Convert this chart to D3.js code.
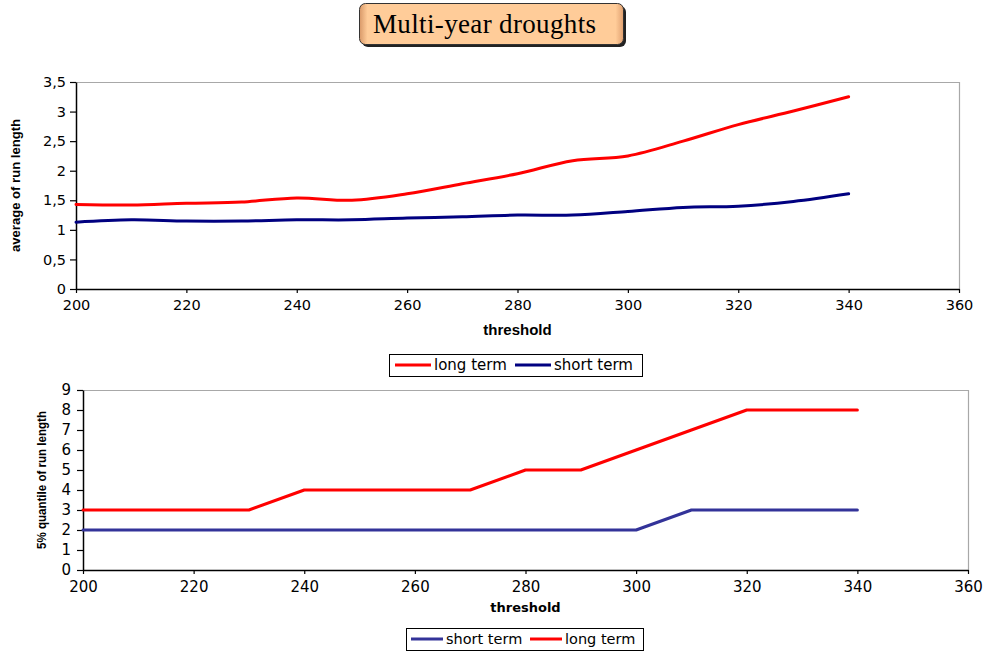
<!DOCTYPE html>
<html><head><meta charset="utf-8">
<script src="https://cdn.jsdelivr.net/npm/d3@7"></script>
<style>
html,body{margin:0;padding:0;background:#fff;}
svg{display:block;}
</style></head>
<body>
<svg id="c" width="984" height="653"></svg>
<script>
// ---------- data ----------
const thresholdsTop = [200,210,220,230,240,250,260,270,280,290,300,310,320,330,340];
const longTermAvg  = [1.43,1.42,1.45,1.47,1.54,1.50,1.61,1.78,1.95,2.17,2.25,2.50,2.78,3.01,3.25];
const shortTermAvg = [1.13,1.17,1.15,1.15,1.17,1.17,1.20,1.22,1.25,1.25,1.31,1.38,1.40,1.48,1.61];

const thresholdsBottom = [200,210,220,230,240,250,260,270,280,290,300,310,320,330,340];
const shortTermQ5 = [2,2,2,2,2,2,2,2,2,2,2,3,3,3,3];
const longTermQ5  = [3,3,3,3,4,4,4,4,5,5,6,7,8,8,8];

const xTicks = [200,220,240,260,280,300,320,340,360];
const yTicksTop = [0,0.5,1,1.5,2,2.5,3,3.5];
const yTicksBottom = [0,1,2,3,4,5,6,7,8,9];

const titleText = "Multi-year droughts";
const xTitle = "threshold";
const yTitleTop = "average of run length";
const yTitleBottom = "5% quantile of run length";

const RED = "#ff0000", NAVY = "#000080", BLUE = "#333399";

const svg = d3.select("#c");
const fmt = v => String(v).replace(".", ",");

// ---------- title ----------
const defs = svg.append("defs");
const grad = defs.append("linearGradient").attr("id","tg").attr("x1",0).attr("y1",0).attr("x2",1).attr("y2",0);
grad.append("stop").attr("offset","0%").attr("stop-color","#d89868");
grad.append("stop").attr("offset","3%").attr("stop-color","#ffcc99");
grad.append("stop").attr("offset","97%").attr("stop-color","#ffcc99");
grad.append("stop").attr("offset","100%").attr("stop-color","#e0a070");
svg.append("rect").attr("x",362).attr("y",6).attr("width",264).attr("height",41).attr("rx",6).attr("fill","#222");
svg.append("rect").attr("x",359.5).attr("y",3.5).attr("width",264).attr("height",41).attr("rx",6)
  .attr("fill","url(#tg)").attr("stroke","#333").attr("stroke-width",1);
svg.append("text").attr("x",373).attr("y",33).attr("font-family","Liberation Serif")
  .attr("font-size",27).attr("fill","#000").attr("textLength",223).text(titleText);

// ---------- chart helper ----------
function chart(cfg){
  const g = svg.append("g");
  const x = d3.scaleLinear().domain([200,360]).range([cfg.left,cfg.right]);
  const y = d3.scaleLinear().domain(cfg.ydom).range([cfg.bottom,cfg.top]);
  g.append("path").attr("d",`M${cfg.left},${cfg.top+0.5}H${cfg.right+0.5}V${cfg.bottom}`)
    .attr("fill","none").attr("stroke","#a8a8a8").attr("stroke-width",1.2);
  const xa = g.append("g").attr("transform",`translate(0,${cfg.bottom})`)
    .call(d3.axisBottom(x).tickValues(xTicks).tickSize(4).tickSizeOuter(0).tickPadding(cfg.xpad).tickFormat(d=>d));
  const ya = g.append("g").attr("transform",`translate(${cfg.left},0)`)
    .call(d3.axisLeft(y).tickValues(cfg.yticks).tickSize(6).tickSizeOuter(0).tickPadding(cfg.ypad).tickFormat(fmt));
  [xa,ya].forEach(a=>{
    a.select(".domain").attr("stroke","#000").attr("stroke-width",1.5);
    a.selectAll(".tick line").attr("stroke","#000").attr("stroke-width",1.2);
    a.selectAll("text").attr("font-family","DejaVu Sans").attr("font-size",cfg.tickFont).attr("fill","#000");
  });
  g.append("text").attr("x",(cfg.left+cfg.right)/2).attr("y",cfg.xTitleY).attr("text-anchor","middle")
    .attr("font-family",cfg.xTitleFamily).attr("font-weight","bold").attr("font-size",cfg.xTitleSize).text(xTitle);
  g.append("text").attr("transform",`translate(${cfg.yTitleX},${(cfg.top+cfg.bottom)/2}) rotate(-90)`)
    .attr("text-anchor","middle").attr("font-family","Liberation Sans").attr("font-weight","bold")
    .attr("font-size",cfg.yTitleSize).attr("textLength",cfg.yTitleLen).attr("lengthAdjust","spacingAndGlyphs")
    .text(cfg.yTitle);
  cfg.series.forEach(s=>{
    const line = d3.line().x((d,i)=>x(cfg.xs[i])).y(d=>y(d)).curve(cfg.curve);
    g.append("path").datum(s.values).attr("d",line).attr("fill","none")
      .attr("stroke",s.color).attr("stroke-width",3).attr("stroke-linejoin","round").attr("stroke-linecap","round");
  });
  const L = cfg.legend;
  const lg = g.append("g");
  lg.append("rect").attr("x",L.x+0.5).attr("y",L.y+0.5).attr("width",L.w).attr("height",L.h)
    .attr("fill","#fff").attr("stroke","#000").attr("stroke-width",1);
  L.items.forEach(it=>{
    lg.append("line").attr("x1",it.lx).attr("x2",it.lx+L.lineLen).attr("y1",L.cy).attr("y2",L.cy)
      .attr("stroke",it.color).attr("stroke-width",3);
    lg.append("text").attr("x",it.lx+L.lineLen+3).attr("y",L.cy).attr("dy","0.35em")
      .attr("font-family","DejaVu Sans").attr("font-size",L.font).attr("fill","#000").text(it.label);
  });
}

chart({
  left:76, right:959, top:82, bottom:289, ydom:[0,3.5], yticks:yTicksTop,
  xs:thresholdsTop, curve:d3.curveCatmullRom.alpha(0.5),
  tickFont:14.5, xpad:7, ypad:4,
  xTitleY:335, xTitleFamily:"Liberation Sans", xTitleSize:15,
  yTitle:yTitleTop, yTitleX:20, yTitleSize:13.5, yTitleLen:133,
  series:[{values:longTermAvg,color:RED},{values:shortTermAvg,color:NAVY}],
  legend:{x:389,y:354,w:253,h:22,cy:365,lineLen:36,font:15,
    items:[{lx:395,color:RED,label:"long term"},{lx:515,color:NAVY,label:"short term"}]}
});

chart({
  left:83, right:968, top:390, bottom:570, ydom:[0,9], yticks:yTicksBottom,
  xs:thresholdsBottom, curve:d3.curveLinear,
  tickFont:15, xpad:7, ypad:6,
  xTitleY:612, xTitleFamily:"DejaVu Sans", xTitleSize:13,
  yTitle:yTitleBottom, yTitleX:46, yTitleSize:13, yTitleLen:138,
  series:[{values:longTermQ5,color:RED},{values:shortTermQ5,color:BLUE}],
  legend:{x:406,y:628,w:237,h:22,cy:639,lineLen:32,font:14.5,
    items:[{lx:411,color:BLUE,label:"short term"},{lx:530,color:RED,label:"long term"}]}
});
</script>
</body></html>
